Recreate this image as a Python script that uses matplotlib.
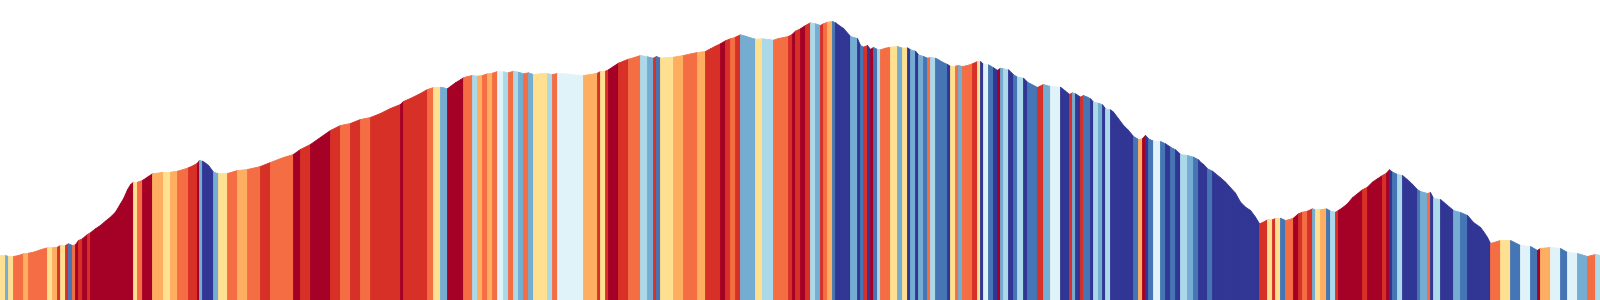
import matplotlib
matplotlib.use("Agg")
import matplotlib.pyplot as plt
import numpy as np
from matplotlib.colors import ListedColormap, BoundaryNorm

# route profile: distance along route (km) and elevation (m)
dist_km = [
    0.0, 0.5, 0.8, 1.3, 1.8, 2.3, 2.8, 3.3, 3.8, 4.2,
    4.7, 5.2, 5.7, 6.0, 6.5, 6.8, 7.2, 7.5, 7.8, 8.2,
    8.7, 9.0, 9.5, 10.0, 10.5, 11.0, 11.5, 12.0, 12.3, 12.7,
    13.0, 13.3, 13.7, 14.2, 14.7, 15.2, 15.7, 16.3, 17.0, 17.7,
    18.3, 18.8, 19.3, 19.7, 19.9, 20.2, 20.5, 20.8, 21.3, 21.8,
    22.7, 23.7, 24.7, 26.0, 27.0, 28.3, 29.3, 30.0, 31.0, 32.0,
    33.0, 34.0, 35.0, 36.0, 37.0, 38.0, 39.0, 40.0, 40.3, 41.0,
    42.0, 42.7, 43.3,
    44.0, 44.3, 44.7, 45.0, 45.5, 46.0, 46.3, 46.7, 47.2, 47.7,
    48.2, 48.7, 49.2, 49.7, 50.3, 50.8, 51.3, 51.8, 52.3, 52.8,
    53.3, 54.0, 54.7, 55.2, 55.7, 56.3, 57.0, 57.7, 58.3, 59.0,
    59.7, 60.0, 60.5, 60.8, 61.3, 61.8, 62.3, 62.8, 63.3,
    64.0, 64.7, 65.3, 65.6, 66.0, 66.7, 67.3, 68.3, 69.2, 69.7,
    70.5, 71.0, 71.5, 72.0, 72.5, 73.0, 73.5, 74.0, 74.5, 75.0,
    75.5, 76.2, 76.8, 77.3, 77.7, 78.3, 78.8, 79.2, 79.5, 80.0,
    80.5, 81.0, 81.5, 82.0, 82.3, 82.7, 83.2, 83.5, 84.0,
    84.3, 85.0, 85.7,
    86.0, 86.3, 86.7, 87.0, 87.3, 87.7, 88.0, 88.5, 89.0, 89.7,
    90.2, 90.7, 91.0, 91.5, 91.8, 92.3, 92.7, 93.0, 93.5, 93.8,
    94.2, 94.7, 95.0, 95.5, 95.8, 96.2, 96.7, 97.2, 97.7, 98.0,
    98.3, 98.8, 99.3, 99.7, 100.0, 100.3, 100.8, 101.3, 101.7, 102.3,
    102.7, 103.7, 104.3, 105.0,
    106.0, 106.5, 106.9, 107.2, 107.5, 108.0, 108.3, 108.7, 109.0, 109.3,
    109.8, 110.2, 110.5, 111.0, 111.3, 111.8, 112.3, 112.8, 113.3, 113.8,
    114.2, 114.5, 114.8, 115.3, 116.0, 116.5, 117.0, 117.5, 118.0, 118.7,
    119.3, 119.8,
    120.0, 120.3, 120.7, 121.2, 121.5, 122.0, 122.5, 123.0, 123.5, 124.0,
    124.5, 125.0, 125.5, 125.9, 126.3, 126.7, 127.2, 127.5, 128.0, 128.5,
    128.8, 129.3, 129.8, 130.2, 130.7, 131.2, 131.5, 132.0, 132.6, 133.0,
    133.5, 133.8, 134.2, 134.7, 135.2, 135.7, 136.2, 136.7, 137.2, 137.7,
    138.2, 138.6, 138.9, 139.2, 139.7, 140.2, 140.7, 141.2, 141.7,
    142.0, 142.7, 143.0, 143.3, 144.0, 144.7, 145.3, 146.0, 146.7, 147.3,
    148.0, 148.3, 148.7, 149.0, 150.0, 151.0, 152.0, 153.0, 153.7, 154.0,
    155.0, 156.0, 156.7, 157.7, 158.7, 159.5, 160.0,
]
elev_m = [
    450, 450, 440, 440, 450, 467, 473, 483, 500, 513,
    527, 527, 533, 550, 550, 567, 550, 557, 600, 617,
    660, 677, 717, 750, 793, 833, 883, 967, 1017, 1107,
    1157, 1183, 1183, 1200, 1233, 1267, 1273, 1283, 1283, 1293,
    1310, 1327, 1350, 1373, 1400, 1393, 1373, 1350, 1283, 1267,
    1270, 1300, 1310, 1340, 1380, 1430, 1460, 1510, 1560, 1630,
    1700, 1750, 1770, 1810, 1830, 1870, 1920, 1960, 1990, 2020,
    2070, 2110, 2130,
    2133, 2127, 2117, 2140, 2177, 2207, 2227, 2240, 2250, 2243,
    2250, 2267, 2273, 2290, 2287, 2277, 2293, 2283, 2267, 2277,
    2260, 2267, 2267, 2260, 2270, 2267, 2260, 2253, 2250, 2260,
    2273, 2290, 2293, 2307, 2340, 2373, 2393, 2413, 2427,
    2450, 2437, 2423, 2440, 2423, 2430, 2433, 2450, 2470, 2480,
    2490, 2517, 2543, 2567, 2597, 2617, 2633, 2657, 2643, 2627,
    2613, 2617, 2610, 2603, 2617, 2630, 2640, 2663, 2693, 2717,
    2750, 2777, 2767, 2750, 2767, 2783, 2790, 2777, 2740,
    2720, 2640, 2620,
    2550, 2533, 2550, 2510, 2530, 2510, 2507, 2523, 2533, 2540,
    2523, 2527, 2507, 2493, 2457, 2440, 2423, 2430, 2423, 2407,
    2383, 2360, 2340, 2343, 2350, 2340, 2350, 2367, 2390, 2390,
    2360, 2357, 2327, 2300, 2323, 2317, 2307, 2257, 2233, 2223,
    2183, 2130, 2160, 2140,
    2133, 2093, 2060, 2077, 2067, 2033, 2050, 2033, 2017, 1983,
    1973, 1957, 1917, 1907, 1883, 1817, 1750, 1700, 1640, 1610,
    1617, 1650, 1617, 1593, 1590, 1567, 1533, 1507, 1460, 1450,
    1433, 1407,
    1383, 1360, 1317, 1293, 1267, 1227, 1183, 1127, 1073, 983,
    933, 900, 833, 767, 783, 807, 807, 820, 823, 800,
    807, 823, 867, 883, 893, 917, 907, 907, 917, 893,
    883, 900, 927, 967, 1027, 1067, 1107, 1133, 1183, 1217,
    1250, 1273, 1307, 1283, 1260, 1250, 1207, 1160, 1107,
    1090, 1070, 1080, 1020, 1010, 950, 900, 880, 850, 780,
    730, 690, 630, 570, 600, 600, 550, 540, 500, 520,
    530, 520, 480, 470, 440, 460, 450,
]

# gradient classes (%), RdYlBu 10-class palette from steep descent to steep climb
grade_bounds = [-100, -6, -4, -2, -1, 0, 1, 2, 4, 6, 100]
palette = ["#313695", "#4575b4", "#74add1", "#abd9e9", "#e0f3f8",
           "#fee090", "#fdae61", "#f46d43", "#d73027", "#a50026"]

d = np.array(dist_km)
e = np.array(elev_m, dtype=float)
grade = np.diff(e) / (np.diff(d) * 1000) * 100

cmap = ListedColormap(palette)
norm = BoundaryNorm(grade_bounds, cmap.N)

fig = plt.figure(figsize=(16, 3), dpi=100)
ax = fig.add_axes([0, 0, 1, 1])
for i in range(len(grade)):
    c = cmap(norm(grade[i]))
    ax.fill_between(d[i:i+2], e[i:i+2], 0, facecolor=c, edgecolor=c,
                    linewidth=0.6)

ax.set_xlim(0, 160)
ax.set_ylim(0, 3000)
ax.axis("off")

plt.savefig("out.png", dpi=100)
